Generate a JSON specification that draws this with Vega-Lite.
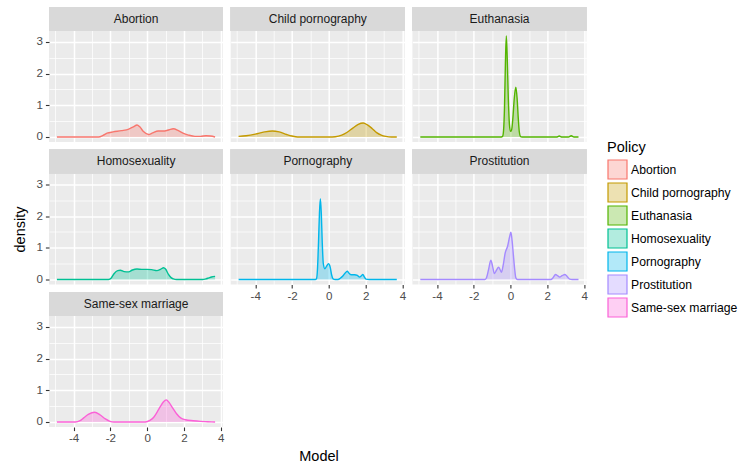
{
  "$schema": "https://vega.github.io/schema/vega-lite/v6.json",
  "padding": {"left": 12, "top": 7, "right": 5, "bottom": 5},
  "background": "white",
  "datasets": {
    "dens": [
      {"Policy": "Abortion", "Model": -4.906, "density": 0},
      {"Policy": "Abortion", "Model": -3.0, "density": 0},
      {"Policy": "Abortion", "Model": -2.64, "density": 0.0},
      {"Policy": "Abortion", "Model": -2.4, "density": 0.05},
      {"Policy": "Abortion", "Model": -2.18, "density": 0.12},
      {"Policy": "Abortion", "Model": -1.85, "density": 0.16},
      {"Policy": "Abortion", "Model": -1.4, "density": 0.2},
      {"Policy": "Abortion", "Model": -1.0, "density": 0.25},
      {"Policy": "Abortion", "Model": -0.75, "density": 0.32},
      {"Policy": "Abortion", "Model": -0.55, "density": 0.38},
      {"Policy": "Abortion", "Model": -0.4, "density": 0.32},
      {"Policy": "Abortion", "Model": -0.2, "density": 0.17},
      {"Policy": "Abortion", "Model": 0.08, "density": 0.08},
      {"Policy": "Abortion", "Model": 0.3, "density": 0.13},
      {"Policy": "Abortion", "Model": 0.6, "density": 0.19},
      {"Policy": "Abortion", "Model": 0.95, "density": 0.19},
      {"Policy": "Abortion", "Model": 1.2, "density": 0.23},
      {"Policy": "Abortion", "Model": 1.42, "density": 0.26},
      {"Policy": "Abortion", "Model": 1.7, "density": 0.2},
      {"Policy": "Abortion", "Model": 1.95, "density": 0.12},
      {"Policy": "Abortion", "Model": 2.25, "density": 0.06},
      {"Policy": "Abortion", "Model": 2.6, "density": 0.02},
      {"Policy": "Abortion", "Model": 2.9, "density": 0.02},
      {"Policy": "Abortion", "Model": 3.2, "density": 0.04},
      {"Policy": "Abortion", "Model": 3.45, "density": 0.03},
      {"Policy": "Abortion", "Model": 3.695, "density": 0.0},

      {"Policy": "Child pornography", "Model": -4.906, "density": 0.02},
      {"Policy": "Child pornography", "Model": -4.5, "density": 0.04},
      {"Policy": "Child pornography", "Model": -4.0, "density": 0.09},
      {"Policy": "Child pornography", "Model": -3.5, "density": 0.16},
      {"Policy": "Child pornography", "Model": -3.07, "density": 0.19},
      {"Policy": "Child pornography", "Model": -2.7, "density": 0.16},
      {"Policy": "Child pornography", "Model": -2.3, "density": 0.08},
      {"Policy": "Child pornography", "Model": -2.0, "density": 0.03},
      {"Policy": "Child pornography", "Model": -1.7, "density": 0.0},
      {"Policy": "Child pornography", "Model": 0.0, "density": 0.0},
      {"Policy": "Child pornography", "Model": 0.35, "density": 0.01},
      {"Policy": "Child pornography", "Model": 0.7, "density": 0.06},
      {"Policy": "Child pornography", "Model": 1.0, "density": 0.15},
      {"Policy": "Child pornography", "Model": 1.3, "density": 0.28},
      {"Policy": "Child pornography", "Model": 1.6, "density": 0.4},
      {"Policy": "Child pornography", "Model": 1.87, "density": 0.44},
      {"Policy": "Child pornography", "Model": 2.1, "density": 0.38},
      {"Policy": "Child pornography", "Model": 2.35, "density": 0.27},
      {"Policy": "Child pornography", "Model": 2.6, "density": 0.14},
      {"Policy": "Child pornography", "Model": 2.85, "density": 0.06},
      {"Policy": "Child pornography", "Model": 3.1, "density": 0.02},
      {"Policy": "Child pornography", "Model": 3.4, "density": 0.0},
      {"Policy": "Child pornography", "Model": 3.695, "density": 0.0},

      {"Policy": "Euthanasia", "Model": -4.906, "density": 0},
      {"Policy": "Euthanasia", "Model": -0.5, "density": 0},
      {"Policy": "Euthanasia", "Model": -0.43, "density": 0.02},
      {"Policy": "Euthanasia", "Model": -0.38, "density": 0.2},
      {"Policy": "Euthanasia", "Model": -0.33, "density": 0.9},
      {"Policy": "Euthanasia", "Model": -0.28, "density": 2.3},
      {"Policy": "Euthanasia", "Model": -0.23, "density": 3.19},
      {"Policy": "Euthanasia", "Model": -0.18, "density": 2.5},
      {"Policy": "Euthanasia", "Model": -0.12, "density": 1.2},
      {"Policy": "Euthanasia", "Model": -0.06, "density": 0.4},
      {"Policy": "Euthanasia", "Model": 0.0, "density": 0.18},
      {"Policy": "Euthanasia", "Model": 0.04, "density": 0.19},
      {"Policy": "Euthanasia", "Model": 0.08, "density": 0.3},
      {"Policy": "Euthanasia", "Model": 0.14, "density": 0.7},
      {"Policy": "Euthanasia", "Model": 0.2, "density": 1.2},
      {"Policy": "Euthanasia", "Model": 0.29, "density": 1.57},
      {"Policy": "Euthanasia", "Model": 0.36, "density": 1.2},
      {"Policy": "Euthanasia", "Model": 0.42, "density": 0.6},
      {"Policy": "Euthanasia", "Model": 0.48, "density": 0.15},
      {"Policy": "Euthanasia", "Model": 0.55, "density": 0.01},
      {"Policy": "Euthanasia", "Model": 0.62, "density": 0},
      {"Policy": "Euthanasia", "Model": 2.5, "density": 0},
      {"Policy": "Euthanasia", "Model": 2.65, "density": 0.03},
      {"Policy": "Euthanasia", "Model": 2.8, "density": 0},
      {"Policy": "Euthanasia", "Model": 3.15, "density": 0},
      {"Policy": "Euthanasia", "Model": 3.3, "density": 0.04},
      {"Policy": "Euthanasia", "Model": 3.45, "density": 0},
      {"Policy": "Euthanasia", "Model": 3.695, "density": 0},

      {"Policy": "Homosexuality", "Model": -4.906, "density": 0},
      {"Policy": "Homosexuality", "Model": -2.1, "density": 0},
      {"Policy": "Homosexuality", "Model": -1.95, "density": 0.05},
      {"Policy": "Homosexuality", "Model": -1.8, "density": 0.18},
      {"Policy": "Homosexuality", "Model": -1.6, "density": 0.28},
      {"Policy": "Homosexuality", "Model": -1.46, "density": 0.29},
      {"Policy": "Homosexuality", "Model": -1.25, "density": 0.25},
      {"Policy": "Homosexuality", "Model": -1.01, "density": 0.24},
      {"Policy": "Homosexuality", "Model": -0.8, "density": 0.3},
      {"Policy": "Homosexuality", "Model": -0.55, "density": 0.33},
      {"Policy": "Homosexuality", "Model": -0.3, "density": 0.32},
      {"Policy": "Homosexuality", "Model": 0.0, "density": 0.32},
      {"Policy": "Homosexuality", "Model": 0.25, "density": 0.31},
      {"Policy": "Homosexuality", "Model": 0.53, "density": 0.28},
      {"Policy": "Homosexuality", "Model": 0.75, "density": 0.33},
      {"Policy": "Homosexuality", "Model": 0.89, "density": 0.37},
      {"Policy": "Homosexuality", "Model": 1.0, "density": 0.33},
      {"Policy": "Homosexuality", "Model": 1.16, "density": 0.16},
      {"Policy": "Homosexuality", "Model": 1.3, "density": 0.06},
      {"Policy": "Homosexuality", "Model": 1.43, "density": 0.02},
      {"Policy": "Homosexuality", "Model": 1.6, "density": 0},
      {"Policy": "Homosexuality", "Model": 3.0, "density": 0},
      {"Policy": "Homosexuality", "Model": 3.2, "density": 0.02},
      {"Policy": "Homosexuality", "Model": 3.35, "density": 0.05},
      {"Policy": "Homosexuality", "Model": 3.5, "density": 0.08},
      {"Policy": "Homosexuality", "Model": 3.695, "density": 0.1},

      {"Policy": "Pornography", "Model": -4.906, "density": 0},
      {"Policy": "Pornography", "Model": -0.74, "density": 0},
      {"Policy": "Pornography", "Model": -0.67, "density": 0.03},
      {"Policy": "Pornography", "Model": -0.62, "density": 0.3},
      {"Policy": "Pornography", "Model": -0.56, "density": 1.2},
      {"Policy": "Pornography", "Model": -0.51, "density": 2.1},
      {"Policy": "Pornography", "Model": -0.46, "density": 2.55},
      {"Policy": "Pornography", "Model": -0.41, "density": 2.1},
      {"Policy": "Pornography", "Model": -0.36, "density": 1.2},
      {"Policy": "Pornography", "Model": -0.3, "density": 0.5},
      {"Policy": "Pornography", "Model": -0.22, "density": 0.34},
      {"Policy": "Pornography", "Model": -0.12, "density": 0.42},
      {"Policy": "Pornography", "Model": -0.02, "density": 0.5},
      {"Policy": "Pornography", "Model": 0.07, "density": 0.4},
      {"Policy": "Pornography", "Model": 0.15, "density": 0.15},
      {"Policy": "Pornography", "Model": 0.23, "density": 0.02},
      {"Policy": "Pornography", "Model": 0.35, "density": 0},
      {"Policy": "Pornography", "Model": 0.5, "density": 0},
      {"Policy": "Pornography", "Model": 0.62, "density": 0.04},
      {"Policy": "Pornography", "Model": 0.76, "density": 0.11},
      {"Policy": "Pornography", "Model": 0.88, "density": 0.2},
      {"Policy": "Pornography", "Model": 1.0, "density": 0.26},
      {"Policy": "Pornography", "Model": 1.1, "density": 0.2},
      {"Policy": "Pornography", "Model": 1.22, "density": 0.15},
      {"Policy": "Pornography", "Model": 1.4, "density": 0.15},
      {"Policy": "Pornography", "Model": 1.55, "density": 0.13},
      {"Policy": "Pornography", "Model": 1.67, "density": 0.08},
      {"Policy": "Pornography", "Model": 1.77, "density": 0.12},
      {"Policy": "Pornography", "Model": 1.85, "density": 0.16},
      {"Policy": "Pornography", "Model": 1.93, "density": 0.08},
      {"Policy": "Pornography", "Model": 2.02, "density": 0.01},
      {"Policy": "Pornography", "Model": 2.2, "density": 0},
      {"Policy": "Pornography", "Model": 3.695, "density": 0},

      {"Policy": "Prostitution", "Model": -4.906, "density": 0},
      {"Policy": "Prostitution", "Model": -1.4, "density": 0},
      {"Policy": "Prostitution", "Model": -1.32, "density": 0.04},
      {"Policy": "Prostitution", "Model": -1.2, "density": 0.3},
      {"Policy": "Prostitution", "Model": -1.07, "density": 0.61},
      {"Policy": "Prostitution", "Model": -0.97, "density": 0.4},
      {"Policy": "Prostitution", "Model": -0.88, "density": 0.19},
      {"Policy": "Prostitution", "Model": -0.76, "density": 0.3},
      {"Policy": "Prostitution", "Model": -0.65, "density": 0.39},
      {"Policy": "Prostitution", "Model": -0.56, "density": 0.3},
      {"Policy": "Prostitution", "Model": -0.49, "density": 0.23},
      {"Policy": "Prostitution", "Model": -0.4, "density": 0.45},
      {"Policy": "Prostitution", "Model": -0.29, "density": 0.84},
      {"Policy": "Prostitution", "Model": -0.16, "density": 1.05},
      {"Policy": "Prostitution", "Model": -0.05, "density": 1.35},
      {"Policy": "Prostitution", "Model": 0.02, "density": 1.49},
      {"Policy": "Prostitution", "Model": 0.09, "density": 1.2},
      {"Policy": "Prostitution", "Model": 0.16, "density": 0.74},
      {"Policy": "Prostitution", "Model": 0.23, "density": 0.3},
      {"Policy": "Prostitution", "Model": 0.29, "density": 0.05},
      {"Policy": "Prostitution", "Model": 0.38, "density": 0},
      {"Policy": "Prostitution", "Model": 2.2, "density": 0},
      {"Policy": "Prostitution", "Model": 2.3, "density": 0.05},
      {"Policy": "Prostitution", "Model": 2.45, "density": 0.16},
      {"Policy": "Prostitution", "Model": 2.56, "density": 0.12},
      {"Policy": "Prostitution", "Model": 2.67, "density": 0.08},
      {"Policy": "Prostitution", "Model": 2.8, "density": 0.12},
      {"Policy": "Prostitution", "Model": 2.96, "density": 0.16},
      {"Policy": "Prostitution", "Model": 3.1, "density": 0.08},
      {"Policy": "Prostitution", "Model": 3.22, "density": 0.01},
      {"Policy": "Prostitution", "Model": 3.35, "density": 0},
      {"Policy": "Prostitution", "Model": 3.695, "density": 0},

      {"Policy": "Same-sex marriage", "Model": -4.906, "density": 0},
      {"Policy": "Same-sex marriage", "Model": -3.9, "density": 0.0},
      {"Policy": "Same-sex marriage", "Model": -3.65, "density": 0.04},
      {"Policy": "Same-sex marriage", "Model": -3.45, "density": 0.13},
      {"Policy": "Same-sex marriage", "Model": -3.2, "density": 0.24},
      {"Policy": "Same-sex marriage", "Model": -2.85, "density": 0.31},
      {"Policy": "Same-sex marriage", "Model": -2.55, "density": 0.22},
      {"Policy": "Same-sex marriage", "Model": -2.27, "density": 0.1},
      {"Policy": "Same-sex marriage", "Model": -2.05, "density": 0.03},
      {"Policy": "Same-sex marriage", "Model": -1.8, "density": 0.0},
      {"Policy": "Same-sex marriage", "Model": -0.1, "density": 0},
      {"Policy": "Same-sex marriage", "Model": 0.15, "density": 0.05},
      {"Policy": "Same-sex marriage", "Model": 0.36, "density": 0.15},
      {"Policy": "Same-sex marriage", "Model": 0.55, "density": 0.32},
      {"Policy": "Same-sex marriage", "Model": 0.73, "density": 0.5},
      {"Policy": "Same-sex marriage", "Model": 0.88, "density": 0.63},
      {"Policy": "Same-sex marriage", "Model": 1.04, "density": 0.7},
      {"Policy": "Same-sex marriage", "Model": 1.2, "density": 0.61},
      {"Policy": "Same-sex marriage", "Model": 1.36, "density": 0.47},
      {"Policy": "Same-sex marriage", "Model": 1.6, "density": 0.26},
      {"Policy": "Same-sex marriage", "Model": 1.82, "density": 0.13},
      {"Policy": "Same-sex marriage", "Model": 2.09, "density": 0.07},
      {"Policy": "Same-sex marriage", "Model": 2.5, "density": 0.04},
      {"Policy": "Same-sex marriage", "Model": 2.9, "density": 0.02},
      {"Policy": "Same-sex marriage", "Model": 3.3, "density": 0.01},
      {"Policy": "Same-sex marriage", "Model": 3.695, "density": 0}
    ]
  },
  "data": {"name": "dens"},
  "columns": 3,
  "bounds": "flush",
  "spacing": {"row": 7.5, "column": 7.7},
  "concat": [
    {
      "width": 174, "height": 135,
      "transform": [{"filter": "datum.Policy === 'Abortion'"}],
      "encoding": {
        "x": {"field": "Model", "type": "quantitative", "scale": {"domain": [-5.336, 4.125], "nice": false, "zero": false},
              "axis": {"values": [-5,-4,-3,-2,-1,0,1,2,3,4], "labels": false, "ticks": false, "title": null,
                       "gridWidth": {"condition": {"test": "datum.value % 2 === 0", "value": 1.5}, "value": 0.75}}},
        "y": {"field": "density", "type": "quantitative", "scale": {"domain": [-0.158, 4.105], "nice": false, "zero": false},
              "axis": {"values": [0,0.5,1,1.5,2,2.5,3], "title": null, "labelExpr": "datum.value % 1 === 0 ? '' + datum.value : ''",
                       "tickOpacity": {"condition": {"test": "datum.value % 1 === 0", "value": 1}, "value": 0},
                       "gridWidth": {"condition": {"test": "datum.value % 1 === 0", "value": 1.5}, "value": 0.75}}}
      },
      "layer": [
        {"mark": {"type": "area", "opacity": 0.3, "interpolate": "monotone"}, "encoding": {"color": {"field": "Policy", "type": "nominal", "legend": {"title": "Policy", "symbolType": "square", "symbolSize": 361, "encode": {"symbols": {"update": {"fill": {"scale": "color", "field": "value"}, "fillOpacity": {"value": 0.3}, "stroke": {"scale": "color", "field": "value"}, "strokeWidth": {"value": 1.2}, "opacity": {"value": 1}}}}}}}},
        {"mark": {"type": "line", "strokeWidth": 1.4, "interpolate": "monotone"}, "encoding": {"color": {"field": "Policy", "type": "nominal", "legend": {"title": "Policy", "symbolType": "square", "symbolSize": 361, "encode": {"symbols": {"update": {"fill": {"scale": "color", "field": "value"}, "fillOpacity": {"value": 0.3}, "stroke": {"scale": "color", "field": "value"}, "strokeWidth": {"value": 1.2}, "opacity": {"value": 1}}}}}}}},
        {"mark": {"type": "rect", "fill": "#D9D9D9"},
         "encoding": {"x": {"datum": -5.336}, "x2": {"datum": 4.125}, "y": {"datum": 3.35}, "y2": {"datum": 4.105}}},
        {"transform": [{"filter": "datum.Model === -4.906"}],
         "mark": {"type": "text", "fontSize": 12, "baseline": "middle", "align": "center", "fill": "#1A1A1A"},
         "encoding": {"x": {"datum": -0.6}, "y": {"datum": 3.728}, "text": {"field": "Policy"}}}
      ]
    },
    {
      "width": 174, "height": 135,
      "transform": [{"filter": "datum.Policy === 'Child pornography'"}],
      "encoding": {
        "x": {"field": "Model", "type": "quantitative", "scale": {"domain": [-5.336, 4.125], "nice": false, "zero": false},
              "axis": {"values": [-5,-4,-3,-2,-1,0,1,2,3,4], "labels": false, "ticks": false, "title": null,
                       "gridWidth": {"condition": {"test": "datum.value % 2 === 0", "value": 1.5}, "value": 0.75}}},
        "y": {"field": "density", "type": "quantitative", "scale": {"domain": [-0.158, 4.105], "nice": false, "zero": false},
              "axis": {"values": [0,0.5,1,1.5,2,2.5,3], "title": null, "labels": false, "ticks": false,
                       "gridWidth": {"condition": {"test": "datum.value % 1 === 0", "value": 1.5}, "value": 0.75}}}
      },
      "layer": [
        {"mark": {"type": "area", "opacity": 0.3, "interpolate": "monotone"}, "encoding": {"color": {"field": "Policy", "type": "nominal", "legend": {"title": "Policy", "symbolType": "square", "symbolSize": 361, "encode": {"symbols": {"update": {"fill": {"scale": "color", "field": "value"}, "fillOpacity": {"value": 0.3}, "stroke": {"scale": "color", "field": "value"}, "strokeWidth": {"value": 1.2}, "opacity": {"value": 1}}}}}}}},
        {"mark": {"type": "line", "strokeWidth": 1.4, "interpolate": "monotone"}, "encoding": {"color": {"field": "Policy", "type": "nominal", "legend": {"title": "Policy", "symbolType": "square", "symbolSize": 361, "encode": {"symbols": {"update": {"fill": {"scale": "color", "field": "value"}, "fillOpacity": {"value": 0.3}, "stroke": {"scale": "color", "field": "value"}, "strokeWidth": {"value": 1.2}, "opacity": {"value": 1}}}}}}}},
        {"mark": {"type": "rect", "fill": "#D9D9D9"},
         "encoding": {"x": {"datum": -5.336}, "x2": {"datum": 4.125}, "y": {"datum": 3.35}, "y2": {"datum": 4.105}}},
        {"transform": [{"filter": "datum.Model === -4.906"}],
         "mark": {"type": "text", "fontSize": 12, "baseline": "middle", "align": "center", "fill": "#1A1A1A"},
         "encoding": {"x": {"datum": -0.6}, "y": {"datum": 3.728}, "text": {"field": "Policy"}}}
      ]
    },
    {
      "width": 174, "height": 135,
      "transform": [{"filter": "datum.Policy === 'Euthanasia'"}],
      "encoding": {
        "x": {"field": "Model", "type": "quantitative", "scale": {"domain": [-5.336, 4.125], "nice": false, "zero": false},
              "axis": {"values": [-5,-4,-3,-2,-1,0,1,2,3,4], "labels": false, "ticks": false, "title": null,
                       "gridWidth": {"condition": {"test": "datum.value % 2 === 0", "value": 1.5}, "value": 0.75}}},
        "y": {"field": "density", "type": "quantitative", "scale": {"domain": [-0.158, 4.105], "nice": false, "zero": false},
              "axis": {"values": [0,0.5,1,1.5,2,2.5,3], "title": null, "labels": false, "ticks": false,
                       "gridWidth": {"condition": {"test": "datum.value % 1 === 0", "value": 1.5}, "value": 0.75}}}
      },
      "layer": [
        {"mark": {"type": "area", "opacity": 0.3, "interpolate": "monotone"}, "encoding": {"color": {"field": "Policy", "type": "nominal", "legend": {"title": "Policy", "symbolType": "square", "symbolSize": 361, "encode": {"symbols": {"update": {"fill": {"scale": "color", "field": "value"}, "fillOpacity": {"value": 0.3}, "stroke": {"scale": "color", "field": "value"}, "strokeWidth": {"value": 1.2}, "opacity": {"value": 1}}}}}}}},
        {"mark": {"type": "line", "strokeWidth": 1.4, "interpolate": "monotone"}, "encoding": {"color": {"field": "Policy", "type": "nominal", "legend": {"title": "Policy", "symbolType": "square", "symbolSize": 361, "encode": {"symbols": {"update": {"fill": {"scale": "color", "field": "value"}, "fillOpacity": {"value": 0.3}, "stroke": {"scale": "color", "field": "value"}, "strokeWidth": {"value": 1.2}, "opacity": {"value": 1}}}}}}}},
        {"mark": {"type": "rect", "fill": "#D9D9D9"},
         "encoding": {"x": {"datum": -5.336}, "x2": {"datum": 4.125}, "y": {"datum": 3.35}, "y2": {"datum": 4.105}}},
        {"transform": [{"filter": "datum.Model === -4.906"}],
         "mark": {"type": "text", "fontSize": 12, "baseline": "middle", "align": "center", "fill": "#1A1A1A"},
         "encoding": {"x": {"datum": -0.6}, "y": {"datum": 3.728}, "text": {"field": "Policy"}}}
      ]
    },
    {
      "width": 174, "height": 135,
      "transform": [{"filter": "datum.Policy === 'Homosexuality'"}],
      "encoding": {
        "x": {"field": "Model", "type": "quantitative", "scale": {"domain": [-5.336, 4.125], "nice": false, "zero": false},
              "axis": {"values": [-5,-4,-3,-2,-1,0,1,2,3,4], "labels": false, "ticks": false, "title": null,
                       "gridWidth": {"condition": {"test": "datum.value % 2 === 0", "value": 1.5}, "value": 0.75}}},
        "y": {"field": "density", "type": "quantitative", "scale": {"domain": [-0.158, 4.105], "nice": false, "zero": false},
              "axis": {"values": [0,0.5,1,1.5,2,2.5,3], "title": "density", "titleY": 79.5, "labelExpr": "datum.value % 1 === 0 ? '' + datum.value : ''",
                       "tickOpacity": {"condition": {"test": "datum.value % 1 === 0", "value": 1}, "value": 0},
                       "gridWidth": {"condition": {"test": "datum.value % 1 === 0", "value": 1.5}, "value": 0.75}}}
      },
      "layer": [
        {"mark": {"type": "area", "opacity": 0.3, "interpolate": "monotone"}, "encoding": {"color": {"field": "Policy", "type": "nominal", "legend": {"title": "Policy", "symbolType": "square", "symbolSize": 361, "encode": {"symbols": {"update": {"fill": {"scale": "color", "field": "value"}, "fillOpacity": {"value": 0.3}, "stroke": {"scale": "color", "field": "value"}, "strokeWidth": {"value": 1.2}, "opacity": {"value": 1}}}}}}}},
        {"mark": {"type": "line", "strokeWidth": 1.4, "interpolate": "monotone"}, "encoding": {"color": {"field": "Policy", "type": "nominal", "legend": {"title": "Policy", "symbolType": "square", "symbolSize": 361, "encode": {"symbols": {"update": {"fill": {"scale": "color", "field": "value"}, "fillOpacity": {"value": 0.3}, "stroke": {"scale": "color", "field": "value"}, "strokeWidth": {"value": 1.2}, "opacity": {"value": 1}}}}}}}},
        {"mark": {"type": "rect", "fill": "#D9D9D9"},
         "encoding": {"x": {"datum": -5.336}, "x2": {"datum": 4.125}, "y": {"datum": 3.35}, "y2": {"datum": 4.105}}},
        {"transform": [{"filter": "datum.Model === -4.906"}],
         "mark": {"type": "text", "fontSize": 12, "baseline": "middle", "align": "center", "fill": "#1A1A1A"},
         "encoding": {"x": {"datum": -0.6}, "y": {"datum": 3.728}, "text": {"field": "Policy"}}}
      ]
    },
    {
      "width": 174, "height": 135,
      "transform": [{"filter": "datum.Policy === 'Pornography'"}],
      "encoding": {
        "x": {"field": "Model", "type": "quantitative", "scale": {"domain": [-5.336, 4.125], "nice": false, "zero": false},
              "axis": {"values": [-5,-4,-3,-2,-1,0,1,2,3,4], "title": null, "labelExpr": "datum.value % 2 === 0 ? '' + datum.value : ''",
                       "tickOpacity": {"condition": {"test": "datum.value % 2 === 0", "value": 1}, "value": 0},
                       "gridWidth": {"condition": {"test": "datum.value % 2 === 0", "value": 1.5}, "value": 0.75}}},
        "y": {"field": "density", "type": "quantitative", "scale": {"domain": [-0.158, 4.105], "nice": false, "zero": false},
              "axis": {"values": [0,0.5,1,1.5,2,2.5,3], "title": null, "labels": false, "ticks": false,
                       "gridWidth": {"condition": {"test": "datum.value % 1 === 0", "value": 1.5}, "value": 0.75}}}
      },
      "layer": [
        {"mark": {"type": "area", "opacity": 0.3, "interpolate": "monotone"}, "encoding": {"color": {"field": "Policy", "type": "nominal", "legend": {"title": "Policy", "symbolType": "square", "symbolSize": 361, "encode": {"symbols": {"update": {"fill": {"scale": "color", "field": "value"}, "fillOpacity": {"value": 0.3}, "stroke": {"scale": "color", "field": "value"}, "strokeWidth": {"value": 1.2}, "opacity": {"value": 1}}}}}}}},
        {"mark": {"type": "line", "strokeWidth": 1.4, "interpolate": "monotone"}, "encoding": {"color": {"field": "Policy", "type": "nominal", "legend": {"title": "Policy", "symbolType": "square", "symbolSize": 361, "encode": {"symbols": {"update": {"fill": {"scale": "color", "field": "value"}, "fillOpacity": {"value": 0.3}, "stroke": {"scale": "color", "field": "value"}, "strokeWidth": {"value": 1.2}, "opacity": {"value": 1}}}}}}}},
        {"mark": {"type": "rect", "fill": "#D9D9D9"},
         "encoding": {"x": {"datum": -5.336}, "x2": {"datum": 4.125}, "y": {"datum": 3.35}, "y2": {"datum": 4.105}}},
        {"transform": [{"filter": "datum.Model === -4.906"}],
         "mark": {"type": "text", "fontSize": 12, "baseline": "middle", "align": "center", "fill": "#1A1A1A"},
         "encoding": {"x": {"datum": -0.6}, "y": {"datum": 3.728}, "text": {"field": "Policy"}}}
      ]
    },
    {
      "width": 174, "height": 135,
      "transform": [{"filter": "datum.Policy === 'Prostitution'"}],
      "encoding": {
        "x": {"field": "Model", "type": "quantitative", "scale": {"domain": [-5.336, 4.125], "nice": false, "zero": false},
              "axis": {"values": [-5,-4,-3,-2,-1,0,1,2,3,4], "title": null, "labelExpr": "datum.value % 2 === 0 ? '' + datum.value : ''",
                       "tickOpacity": {"condition": {"test": "datum.value % 2 === 0", "value": 1}, "value": 0},
                       "gridWidth": {"condition": {"test": "datum.value % 2 === 0", "value": 1.5}, "value": 0.75}}},
        "y": {"field": "density", "type": "quantitative", "scale": {"domain": [-0.158, 4.105], "nice": false, "zero": false},
              "axis": {"values": [0,0.5,1,1.5,2,2.5,3], "title": null, "labels": false, "ticks": false,
                       "gridWidth": {"condition": {"test": "datum.value % 1 === 0", "value": 1.5}, "value": 0.75}}}
      },
      "layer": [
        {"mark": {"type": "area", "opacity": 0.3, "interpolate": "monotone"}, "encoding": {"color": {"field": "Policy", "type": "nominal", "legend": {"title": "Policy", "symbolType": "square", "symbolSize": 361, "encode": {"symbols": {"update": {"fill": {"scale": "color", "field": "value"}, "fillOpacity": {"value": 0.3}, "stroke": {"scale": "color", "field": "value"}, "strokeWidth": {"value": 1.2}, "opacity": {"value": 1}}}}}}}},
        {"mark": {"type": "line", "strokeWidth": 1.4, "interpolate": "monotone"}, "encoding": {"color": {"field": "Policy", "type": "nominal", "legend": {"title": "Policy", "symbolType": "square", "symbolSize": 361, "encode": {"symbols": {"update": {"fill": {"scale": "color", "field": "value"}, "fillOpacity": {"value": 0.3}, "stroke": {"scale": "color", "field": "value"}, "strokeWidth": {"value": 1.2}, "opacity": {"value": 1}}}}}}}},
        {"mark": {"type": "rect", "fill": "#D9D9D9"},
         "encoding": {"x": {"datum": -5.336}, "x2": {"datum": 4.125}, "y": {"datum": 3.35}, "y2": {"datum": 4.105}}},
        {"transform": [{"filter": "datum.Model === -4.906"}],
         "mark": {"type": "text", "fontSize": 12, "baseline": "middle", "align": "center", "fill": "#1A1A1A"},
         "encoding": {"x": {"datum": -0.6}, "y": {"datum": 3.728}, "text": {"field": "Policy"}}}
      ]
    },
    {
      "width": 174, "height": 135,
      "transform": [{"filter": "datum.Policy === 'Same-sex marriage'"}],
      "encoding": {
        "x": {"field": "Model", "type": "quantitative", "scale": {"domain": [-5.336, 4.125], "nice": false, "zero": false},
              "axis": {"values": [-5,-4,-3,-2,-1,0,1,2,3,4], "title": "Model", "titleX": 269.5, "labelExpr": "datum.value % 2 === 0 ? '' + datum.value : ''",
                       "tickOpacity": {"condition": {"test": "datum.value % 2 === 0", "value": 1}, "value": 0},
                       "gridWidth": {"condition": {"test": "datum.value % 2 === 0", "value": 1.5}, "value": 0.75}}},
        "y": {"field": "density", "type": "quantitative", "scale": {"domain": [-0.158, 4.105], "nice": false, "zero": false},
              "axis": {"values": [0,0.5,1,1.5,2,2.5,3], "title": null, "labelExpr": "datum.value % 1 === 0 ? '' + datum.value : ''",
                       "tickOpacity": {"condition": {"test": "datum.value % 1 === 0", "value": 1}, "value": 0},
                       "gridWidth": {"condition": {"test": "datum.value % 1 === 0", "value": 1.5}, "value": 0.75}}}
      },
      "layer": [
        {"mark": {"type": "area", "opacity": 0.3, "interpolate": "monotone"}, "encoding": {"color": {"field": "Policy", "type": "nominal", "legend": {"title": "Policy", "symbolType": "square", "symbolSize": 361, "encode": {"symbols": {"update": {"fill": {"scale": "color", "field": "value"}, "fillOpacity": {"value": 0.3}, "stroke": {"scale": "color", "field": "value"}, "strokeWidth": {"value": 1.2}, "opacity": {"value": 1}}}}}}}},
        {"mark": {"type": "line", "strokeWidth": 1.4, "interpolate": "monotone"}, "encoding": {"color": {"field": "Policy", "type": "nominal", "legend": {"title": "Policy", "symbolType": "square", "symbolSize": 361, "encode": {"symbols": {"update": {"fill": {"scale": "color", "field": "value"}, "fillOpacity": {"value": 0.3}, "stroke": {"scale": "color", "field": "value"}, "strokeWidth": {"value": 1.2}, "opacity": {"value": 1}}}}}}}},
        {"mark": {"type": "rect", "fill": "#D9D9D9"},
         "encoding": {"x": {"datum": -5.336}, "x2": {"datum": 4.125}, "y": {"datum": 3.35}, "y2": {"datum": 4.105}}},
        {"transform": [{"filter": "datum.Model === -4.906"}],
         "mark": {"type": "text", "fontSize": 12, "baseline": "middle", "align": "center", "fill": "#1A1A1A"},
         "encoding": {"x": {"datum": -0.6}, "y": {"datum": 3.728}, "text": {"field": "Policy"}}}
      ]
    }
  ],
  "config": {
    "font": "Liberation Sans",
    "view": {"fill": "#EBEBEB", "stroke": null},
    "range": {"category": ["#F8766D", "#C49A00", "#53B400", "#00C094", "#00B6EB", "#A58AFF", "#FB61D7"]},
    "axis": {"domain": false, "gridColor": "#FFFFFF", "gridOpacity": 1, "tickColor": "#333333", "tickSize": 3.6, "tickWidth": 1.1,
             "labelColor": "#4D4D4D", "labelFontSize": 11.6, "labelFlush": false, "labelOverlap": false,
             "titleFontSize": 14.5, "titleFontWeight": "normal", "titleColor": "#000000"},
    "axisX": {"labelPadding": 2, "titlePadding": 5},
    "axisY": {"labelPadding": 3, "titlePadding": 8},
    "legend": {"orient": "none", "legendX": 558, "legendY": 134, "titleFontSize": 14.5, "titleFontWeight": "normal", "titleColor": "#000000",
               "labelFontSize": 12.2, "labelColor": "#000000", "rowPadding": -4.8, "labelOffset": 3, "titlePadding": 3.5}
  }
}
